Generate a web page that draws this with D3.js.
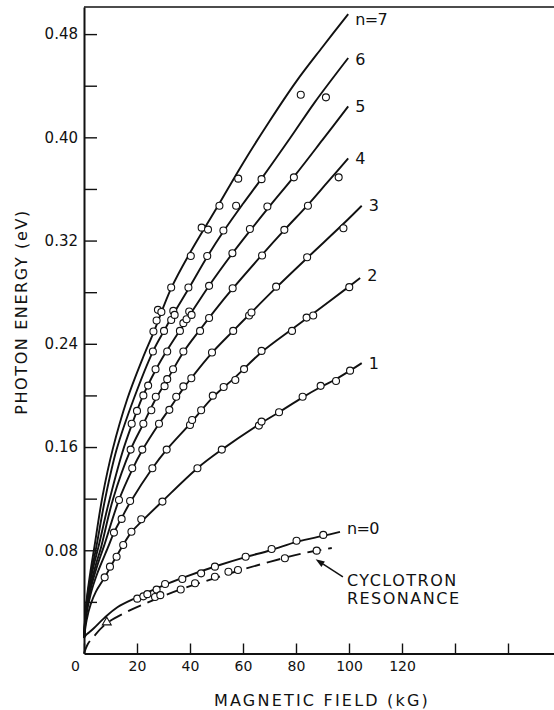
<!DOCTYPE html>
<html>
<head>
<meta charset="utf-8">
<script src="https://cdn.jsdelivr.net/npm/d3@7"></script>
<style>
  html, body { margin: 0; padding: 0; background: #fff; }
  svg { display: block; }
  text { font-family: "DejaVu Sans", "Liberation Sans", sans-serif; fill: #111; }
</style>
</head>
<body>
<svg id="chart" width="554" height="710"></svg>
<script>
// Axis ticks (magnetic field in kG, photon energy in eV)
const fieldTicks = [0, 20, 40, 60, 80, 100, 120, 140, 160];
const fieldLabelValues = [0, 20, 40, 60, 80, 100, 120];
const energyTicks = [0.04, 0.08, 0.12, 0.16, 0.20, 0.24, 0.28, 0.32, 0.36, 0.40, 0.44, 0.48];
const energyLabelValues = [0.08, 0.16, 0.24, 0.32, 0.40, 0.48];

// Fitted transition curves, [field kG, energy eV]
const fitN0 = [[0,0.012],[1,0.0148],[2.2,0.0168],[3.8,0.0198],[7.5,0.0272],[12.6,0.0358],[20.1,0.0436],[30.2,0.053],[37.7,0.059],[50.3,0.068],[60.6,0.0745],[70.4,0.080],[80.5,0.0867],[90.6,0.0913],[96.6,0.0942]];
const fitN1 = [[0,0.012],[1,0.026],[2.5,0.038],[4.5,0.048],[7.8,0.059],[12.3,0.0755],[17.9,0.094],[21.6,0.102],[29.6,0.118],[42.8,0.1436],[52,0.158],[66,0.1775],[73.6,0.187],[82.5,0.1985],[89.3,0.2065],[95,0.2125],[100.4,0.2192],[104.8,0.225]];
const fitN2 = [[0,0.012],[1,0.031],[2.5,0.046],[5,0.062],[9,0.082],[11.3,0.0937],[14.2,0.105],[17.4,0.117],[25.8,0.1436],[31.2,0.158],[40,0.178],[48.6,0.1985],[57,0.214],[67,0.2335],[78.6,0.2515],[86.5,0.2635],[100.1,0.2845],[104.2,0.291]];
const fitN3 = [[0,0.012],[1,0.034],[2.5,0.05],[5,0.068],[7.5,0.083],[13.2,0.119],[18.2,0.1425],[22,0.1575],[28.3,0.178],[32.2,0.1895],[37.5,0.2055],[40.5,0.2135],[48.3,0.233],[56.3,0.25],[63,0.264],[72.5,0.2835],[84.2,0.3065],[97.9,0.333],[104.8,0.347]];
const fitN4 = [[0,0.012],[1,0.036],[2.5,0.053],[4.5,0.069],[6.4,0.082],[11,0.12],[17.6,0.158],[22.4,0.178],[27,0.197],[31.5,0.2125],[37.5,0.2335],[44,0.2515],[50,0.2675],[56,0.2825],[67,0.3085],[76,0.329],[84.4,0.3475],[92,0.3655],[99.7,0.3837]];
const fitN5 = [[0,0.012],[1,0.038],[2.5,0.057],[4,0.071],[5.5,0.083],[9,0.114],[14.5,0.156],[18,0.177],[22,0.1985],[27,0.2195],[31.5,0.2355],[36.2,0.2505],[40,0.2625],[47.2,0.285],[56,0.31],[63,0.3285],[70,0.3465],[80,0.3715],[90,0.398],[99.7,0.4240]];
const fitN6 = [[0,0.012],[1,0.04],[2.5,0.06],[4.6,0.082],[8,0.12],[12.3,0.158],[18.9,0.198],[26,0.234],[30.2,0.25],[34,0.264],[39.4,0.2825],[46.5,0.3075],[52.6,0.327],[60,0.3485],[67,0.368],[78,0.4],[87.2,0.4275],[99.7,0.4615]];
const fitN7 = [[0,0.012],[0.5,0.03],[1.2,0.045],[2.4,0.063],[3.8,0.081],[7,0.122],[10.8,0.158],[16.3,0.197],[22,0.228],[26.2,0.2485],[33,0.2835],[40,0.3105],[50,0.345],[60,0.38],[70,0.4125],[80,0.443],[90,0.47],[99.7,0.4955]];

// Measured absorption peaks, [field kG, energy eV]
const obsN0 = [[20.1,0.0425],[22.4,0.0443],[23.9,0.046],[27.4,0.0495],[30.6,0.0539],[37.1,0.0577],[44.2,0.0621],[49.4,0.0673],[61,0.075],[70.8,0.081],[80.2,0.0874],[90.3,0.0919]];
const obsN1 = [[7.8,0.059],[9.8,0.0673],[12.3,0.075],[14.8,0.0841],[17.9,0.0944],[21.6,0.104],[29.6,0.1177],[42.8,0.1436],[52,0.158],[66,0.1766],[67,0.1797],[73.6,0.187],[82.5,0.199],[89.3,0.2074],[95.1,0.2112],[100.4,0.2192]];
const obsN2 = [[11.3,0.0937],[14.2,0.1043],[17.4,0.1182],[25.8,0.1436],[31.2,0.158],[40,0.1771],[40.8,0.181],[44.2,0.1885],[48.6,0.1998],[52.7,0.2065],[57.1,0.212],[60.4,0.2204],[67,0.2345],[78.5,0.25],[84,0.2603],[86.5,0.2619],[100.1,0.2839]];
const obsN3 = [[13.2,0.119],[18.2,0.1436],[22,0.158],[28.3,0.178],[32.2,0.1888],[34.8,0.199],[37.5,0.207],[40.5,0.2133],[48.3,0.2332],[56.3,0.25],[62.3,0.2619],[63.2,0.2642],[72.5,0.2843],[84.2,0.3071],[97.9,0.3296]];
const obsN4 = [[17.6,0.158],[22.4,0.178],[25.4,0.1885],[27.1,0.199],[30.4,0.2072],[31.4,0.2126],[33.6,0.2203],[37.5,0.234],[43.8,0.25],[47.2,0.26],[56.1,0.2831],[67.2,0.3084],[75.6,0.3283],[84.5,0.347],[96.1,0.369]];
const obsN5 = [[18,0.178],[20,0.188],[22.4,0.2],[24.2,0.2076],[27,0.2203],[31.4,0.234],[36.2,0.25],[37.5,0.256],[38.7,0.259],[39.7,0.265],[40.6,0.2624],[47.2,0.2849],[56,0.3102],[62.6,0.329],[69.2,0.3464],[79.2,0.369]];
const obsN6 = [[26,0.234],[30.2,0.25],[32.9,0.2585],[33.7,0.2655],[34.2,0.2624],[39.4,0.2836],[46.5,0.308],[52.6,0.3278],[57.4,0.347],[67,0.3676],[91.3,0.431]];
const obsN7 = [[26.2,0.2495],[27.4,0.258],[27.9,0.2663],[29.2,0.2647],[32.9,0.2836],[40.3,0.308],[44.4,0.33],[46.8,0.3285],[51.1,0.347],[58.2,0.368],[81.8,0.433]];

// Cyclotron resonance: fitted curve, measured circles, and the single triangle point
const fitCyclotron = [[0,0],[1.5,0.0075],[3.8,0.0135],[8.6,0.0235],[16.3,0.0324],[26.4,0.0415],[36.5,0.0497],[50.3,0.059],[59.1,0.0647],[70.4,0.0712],[81.7,0.0772],[93.5,0.0818]];
const obsCyclotron = [[26.8,0.0438],[28.8,0.0452],[36.5,0.0496],[41.9,0.0544],[49.4,0.0595],[54.5,0.0634],[58.1,0.0647],[75.8,0.0738],[87.8,0.0797]];
const triangleCyclotron = [[8.6,0.0242]];

const levelNames = ["n=0", "1", "2", "3", "4", "5", "6", "n=7"];
const arrowTail = [97.7, 0.0593];
const arrowHead = [87.4, 0.0730];
const annotationLines = ["CYCLOTRON", "RESONANCE"];

const fits = [fitN0, fitN1, fitN2, fitN3, fitN4, fitN5, fitN6, fitN7];
const observations = [obsN0, obsN1, obsN2, obsN3, obsN4, obsN5, obsN6, obsN7];

const ink = "#111";
const svg = d3.select("#chart");

const x = d3.scaleLinear().domain([0, 180]).range([84, 561]);
const y = d3.scaleLinear().domain([0, 0.501]).range([653.5, 7]);

// Frame top edge
svg.append("line")
  .attr("x1", x(0)).attr("x2", x(180))
  .attr("y1", y(0.501)).attr("y2", y(0.501))
  .attr("stroke", ink).attr("stroke-width", 1.6);

// X axis with inward ticks
const xAxis = svg.append("g")
  .attr("transform", `translate(0,${y(0)})`)
  .call(d3.axisBottom(x)
    .tickValues(fieldTicks)
    .tickSize(-10)
    .tickSizeOuter(0)
    .tickPadding(7.6)
    .tickFormat(d => fieldLabelValues.includes(d) ? String(d) : ""));
xAxis.select(".domain").attr("stroke", ink).attr("stroke-width", 2);
xAxis.selectAll(".tick line").attr("stroke", ink).attr("stroke-width", 1.4);
xAxis.selectAll(".tick text")
  .attr("font-family", "DejaVu Sans").attr("font-size", 14).attr("fill", ink);
xAxis.selectAll(".tick").filter(d => d === 0).select("text").attr("x", -9);

// Y axis with inward ticks
const yAxis = svg.append("g")
  .attr("transform", `translate(${x(0)},0)`)
  .call(d3.axisLeft(y)
    .tickValues(energyTicks)
    .tickSize(-13)
    .tickSizeOuter(0)
    .tickPadding(6)
    .tickFormat(d => energyLabelValues.some(v => Math.abs(v - d) < 1e-9) ? d3.format(".2f")(d) : ""));
yAxis.select(".domain").attr("stroke", ink).attr("stroke-width", 2);
yAxis.selectAll(".tick line").attr("stroke", ink).attr("stroke-width", 1.4);
yAxis.selectAll(".tick text")
  .attr("font-family", "DejaVu Sans").attr("font-size", 15).attr("fill", ink);

// Axis titles
svg.append("text")
  .attr("x", 322).attr("y", 706)
  .attr("text-anchor", "middle")
  .attr("font-size", 16)
  .attr("letter-spacing", 2.2)
  .text("MAGNETIC FIELD (kG)");

svg.append("text")
  .attr("transform", "translate(27,312) rotate(-90)")
  .attr("text-anchor", "middle")
  .attr("font-size", 16)
  .attr("letter-spacing", 1.6)
  .text("PHOTON ENERGY (eV)");

// Curves
const line = d3.line()
  .x(d => x(d[0]))
  .y(d => y(d[1]))
  .curve(d3.curveCatmullRom.alpha(0.5));

svg.append("g").selectAll("path")
  .data(fits)
  .join("path")
  .attr("d", line)
  .attr("fill", "none")
  .attr("stroke", ink)
  .attr("stroke-width", 1.9);

svg.append("path")
  .datum(fitCyclotron)
  .attr("d", line)
  .attr("fill", "none")
  .attr("stroke", ink)
  .attr("stroke-width", 1.9)
  .attr("stroke-dasharray", "14,7");

// Measured points as open circles
svg.append("g").selectAll("circle")
  .data(observations.flat().concat(obsCyclotron))
  .join("circle")
  .attr("cx", d => x(d[0]))
  .attr("cy", d => y(d[1]))
  .attr("r", 3.5)
  .attr("fill", "#fff")
  .attr("stroke", ink)
  .attr("stroke-width", 1.1);

// Open triangle
svg.append("g").selectAll("path")
  .data(triangleCyclotron)
  .join("path")
  .attr("transform", d => `translate(${x(d[0])},${y(d[1])})`)
  .attr("d", d3.symbol(d3.symbolTriangle, 34))
  .attr("fill", "#fff")
  .attr("stroke", ink)
  .attr("stroke-width", 1.1);

// Level labels at the curve ends
const labelNudge = [-4, 0, -3, 0, 0, 0, 1, 5];
svg.append("g").selectAll("text")
  .data(fits)
  .join("text")
  .attr("x", d => x(d[d.length - 1][0]) + 7)
  .attr("y", (d, i) => y(d[d.length - 1][1]) + labelNudge[i])
  .attr("dy", "0.36em")
  .attr("font-size", 16)
  .attr("letter-spacing", -0.6)
  .text((d, i) => levelNames[i]);

// Arrow pointing at the cyclotron resonance curve
const tail = [x(arrowTail[0]), y(arrowTail[1])];
const head = [x(arrowHead[0]), y(arrowHead[1])];
const ang = Math.atan2(head[1] - tail[1], head[0] - tail[0]);
const headLen = 9, headHalf = 3.2;
const base = [head[0] - headLen * Math.cos(ang), head[1] - headLen * Math.sin(ang)];
svg.append("line")
  .attr("x1", tail[0]).attr("y1", tail[1])
  .attr("x2", base[0]).attr("y2", base[1])
  .attr("stroke", ink).attr("stroke-width", 1.5);
svg.append("path")
  .attr("d", d3.line()([
    head,
    [base[0] + headHalf * Math.sin(ang), base[1] - headHalf * Math.cos(ang)],
    [base[0] - headHalf * Math.sin(ang), base[1] + headHalf * Math.cos(ang)]
  ]) + "Z")
  .attr("fill", ink);

svg.append("g").selectAll("text")
  .data(annotationLines)
  .join("text")
  .attr("x", tail[0] + 4)
  .attr("y", (d, i) => tail[1] + 9 + i * 18)
  .attr("font-size", 16)
  .attr("letter-spacing", 1.5)
  .text(d => d);
</script>
</body>
</html>
